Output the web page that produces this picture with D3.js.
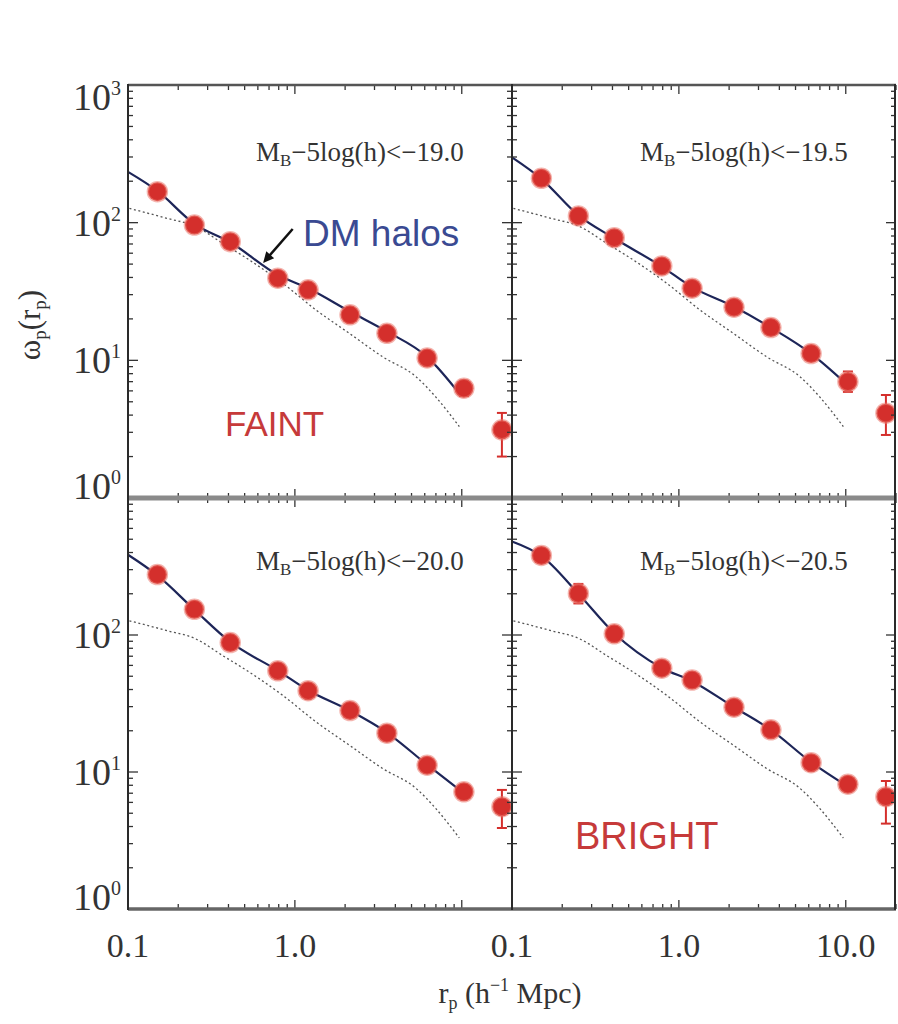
<!DOCTYPE html>
<html>
<head>
<meta charset="utf-8">
<script src="https://cdn.jsdelivr.net/npm/d3@7"></script>
<style>
  body { margin: 0; background: #fff; }
  svg { display: block; }
</style>
</head>
<body>
<svg id="chart" width="898" height="1024"></svg>
<script>
// Projected correlation function w_p(r_p) in four luminosity-threshold samples.

// Projected separations of the measured bins (h^-1 Mpc)
const rpBins = [0.15, 0.25, 0.41, 0.79, 1.2, 2.14, 3.56, 6.2, 10.3, 17.4];

// Measured w_p for each threshold sample, with error-bar ends
const wp190 = [168, 96, 72.8, 39.5, 32.5, 21.4, 15.7, 10.4, 6.27, 3.13];
const lo190 = [155, 89, 67, 36.5, 30, 19.6, 14.3, 9.4, 5.5, 2.0];
const hi190 = [182, 104, 79, 43, 35, 23.3, 17.2, 11.5, 7.1, 4.15];

const wp195 = [210, 112, 77.8, 48.5, 33.4, 24.3, 17.3, 11.2, 7.0, 4.13];
const lo195 = [194, 104, 72, 45, 31, 22.4, 15.8, 10.2, 5.9, 2.87];
const hi195 = [227, 121, 84, 52.5, 36, 26.3, 19, 12.3, 8.3, 5.6];

const wp200 = [276, 154, 88, 54.8, 39.2, 28.1, 19.2, 11.2, 7.17, 5.58];
const lo200 = [254, 142, 80, 50.5, 36, 25.8, 17.5, 10.2, 6.5, 3.9];
const hi200 = [300, 167, 97, 59.5, 42.7, 30.6, 21.1, 12.3, 7.9, 7.4];

const wp205 = [381, 201, 102, 57.3, 46.9, 29.7, 20.3, 11.7, 8.14, 6.6];
const lo205 = [350, 170, 92, 52.5, 43, 27.2, 18.5, 10.6, 7.4, 4.2];
const hi205 = [414, 236, 113, 62.5, 51, 32.4, 22.3, 12.9, 9.0, 8.6];

// Matched dark-matter-halo curves (solid)
const haloR = [0.1, 0.15, 0.25, 0.41, 0.79, 1.2, 2.14, 3.56, 6.2, 10];
const halo190 = [234, 170, 98, 72, 41.7, 33.4, 22.6, 16.2, 10.6, 5.45];
const halo195 = [298, 208, 113, 77, 48, 34, 24.5, 17.3, 11.2, 6.8];
const halo200 = [385, 272, 153, 89, 55, 39.5, 28, 19.4, 11.3, 7.2];
const halo205 = [482, 378, 200, 103, 57.5, 46, 29.7, 20.3, 11.8, 8.0];

// Dark-matter correlation function (dotted), the same in every panel
const dmR  = [0.102, 0.169, 0.255, 0.369, 0.533, 0.845, 1.34, 2.12, 3.36, 5.32, 7.0, 9.67];
const dmWp = [127, 108, 93.6, 70.8, 53.6, 36.3, 23.2, 15.7, 10.6, 7.6, 5.4, 3.3];

// Panel titles and tick labels
const thresholds = ["19.0", "19.5", "20.0", "20.5"];
const xTickLabels = ["0.1", "1.0", "10.0"];
const yTickExponents = ["0", "1", "2", "3"];

const panels = [
  { col: 0, row: 0, wp: wp190, lo: lo190, hi: hi190, halo: halo190, thr: thresholds[0] },
  { col: 1, row: 0, wp: wp195, lo: lo195, hi: hi195, halo: halo195, thr: thresholds[1] },
  { col: 0, row: 1, wp: wp200, lo: lo200, hi: hi200, halo: halo200, thr: thresholds[2] },
  { col: 1, row: 1, wp: wp205, lo: lo205, hi: hi205, halo: halo205, thr: thresholds[3] }
];

const svg = d3.select("#chart");
const serif = "'Liberation Serif', 'Times New Roman', serif";
const sans = "'Liberation Sans', Arial, Helvetica, sans-serif";

const colX = [128, 512];
const panelW = 384;
const rowY = [[85, 498], [498, 909]];

const red = "#d42f2c";
const navy = "#1d2558";

panels.forEach(p => {
  const x0 = colX[p.col], x1 = x0 + panelW;
  const [y0, y1] = rowY[p.row];
  const x = d3.scaleLog().domain([0.1, 20]).range([x0, x1]);
  const y = d3.scaleLog().domain([1, 1000]).range([y1, y0]);
  const g = svg.append("g");

  const clipId = `clip-${p.col}-${p.row}`;
  svg.append("clipPath").attr("id", clipId)
    .append("rect").attr("x", x0).attr("y", y0).attr("width", panelW).attr("height", y1 - y0);

  const line = d3.line().x(d => x(d[0])).y(d => y(d[1])).curve(d3.curveMonotoneX);

  // dark matter (dotted)
  g.append("path")
    .attr("d", line(dmR.map((r, i) => [r, dmWp[i]])))
    .attr("fill", "none").attr("stroke", "#555").attr("stroke-width", 1.3)
    .attr("stroke-dasharray", "2,2.6");

  // halo model (solid)
  g.append("path")
    .attr("d", line(haloR.map((r, i) => [r, p.halo[i]])))
    .attr("fill", "none").attr("stroke", navy).attr("stroke-width", 2.2);

  // error bars
  const pts = rpBins.map((r, i) => ({ r, v: p.wp[i], lo: p.lo[i], hi: p.hi[i] }));
  const eg = g.append("g").attr("clip-path", `url(#${clipId})`);
  eg.selectAll("line.err").data(pts).enter().append("line")
    .attr("x1", d => x(d.r)).attr("x2", d => x(d.r))
    .attr("y1", d => y(d.lo)).attr("y2", d => y(d.hi))
    .attr("stroke", red).attr("stroke-width", 2);
  ["lo", "hi"].forEach(k => {
    eg.selectAll(`line.cap-${k}`).data(pts).enter().append("line")
      .attr("x1", d => x(d.r) - 5).attr("x2", d => x(d.r) + 5)
      .attr("y1", d => y(d[k])).attr("y2", d => y(d[k]))
      .attr("stroke", red).attr("stroke-width", 2);
  });

  // points
  eg.selectAll("circle").data(pts).enter().append("circle")
    .attr("cx", d => x(d.r)).attr("cy", d => y(d.v)).attr("r", 9.5)
    .attr("fill", red).attr("stroke", "rgba(235,120,110,0.55)").attr("stroke-width", 2.5);

  // ticks (inward, all four sides)
  const tg = g.append("g").attr("stroke", "#333").attr("stroke-width", 1.3);
  const isMajor = v => Math.abs(Math.log10(v) - Math.round(Math.log10(v))) < 1e-6;
  x.ticks().forEach(v => {
    const len = isMajor(v) ? 9 : 5;
    const xx = x(v);
    tg.append("line").attr("x1", xx).attr("x2", xx).attr("y1", y1).attr("y2", y1 - len);
    tg.append("line").attr("x1", xx).attr("x2", xx).attr("y1", y0).attr("y2", y0 + len);
  });
  y.ticks().forEach(v => {
    const len = isMajor(v) ? 10 : 5;
    const yy = y(v);
    tg.append("line").attr("x1", x0).attr("x2", x0 + len).attr("y1", yy).attr("y2", yy);
    tg.append("line").attr("x1", x1).attr("x2", x1 - len).attr("y1", yy).attr("y2", yy);
  });

  // panel title
  const t = g.append("text")
    .attr("x", x0 + 128).attr("y", y0 + (p.row === 0 ? 76 : 72))
    .attr("font-family", serif).attr("font-size", 27).attr("fill", "#333");
  t.append("tspan").text("M");
  t.append("tspan").text("B").attr("font-size", 17).attr("dy", 5);
  t.append("tspan").text("\u22125log(h)<\u2212" + p.thr).attr("dy", -5);

  // x tick labels along the bottom row
  if (p.row === 1) {
    const labs = p.col === 0 ? xTickLabels.slice(0, 2) : xTickLabels;
    labs.forEach(s => {
      svg.append("text").attr("x", x(+s)).attr("y", 957)
        .attr("text-anchor", "middle").attr("font-family", serif)
        .attr("font-size", 34).attr("fill", "#333").text(s);
    });
  }

  // y tick labels on the left column
  if (p.col === 0) {
    const exps = p.row === 0 ? yTickExponents : yTickExponents.slice(0, 3);
    exps.forEach(e => {
      const yy = Math.min(Math.max(y(Math.pow(10, +e)), y0 + 12), y1 - 12);
      const tx = svg.append("text").attr("x", 121).attr("y", yy + 13)
        .attr("text-anchor", "end").attr("font-family", serif)
        .attr("font-size", 38).attr("fill", "#333");
      tx.append("tspan").text("10");
      tx.append("tspan").text(e).attr("font-size", 20).attr("dy", -15);
    });
  }

  // annotations
  if (p.col === 0 && p.row === 0) {
    svg.append("text").attr("x", x0 + 97).attr("y", y0 + 351)
      .attr("font-family", sans).attr("font-size", 35).attr("fill", "#c63a3a").text("FAINT");
    svg.append("text").attr("x", x0 + 175).attr("y", y0 + 161)
      .attr("font-family", sans).attr("font-size", 37).attr("fill", "#3a4a92").text("DM halos");
    const ax1 = x(0.97), ay1 = y(90), ax2 = x(0.645), ay2 = y(51);
    const ang = Math.atan2(ay2 - ay1, ax2 - ax1);
    svg.append("line").attr("x1", ax1).attr("y1", ay1)
      .attr("x2", ax2 - 6 * Math.cos(ang)).attr("y2", ay2 - 6 * Math.sin(ang))
      .attr("stroke", "#111").attr("stroke-width", 2.5);
    const hl = 12, hw = 0.45;
    svg.append("path")
      .attr("d", `M${ax2},${ay2}` +
        `L${ax2 - hl * Math.cos(ang - hw)},${ay2 - hl * Math.sin(ang - hw)}` +
        `L${ax2 - hl * Math.cos(ang + hw)},${ay2 - hl * Math.sin(ang + hw)}Z`)
      .attr("fill", "#111");
  }
  if (p.col === 1 && p.row === 1) {
    svg.append("text").attr("x", x0 + 63).attr("y", y0 + 351)
      .attr("font-family", sans).attr("font-size", 38).attr("fill", "#c63a3a").text("BRIGHT");
  }
});

// frame lines
const frame = svg.append("g").attr("fill", "none");
frame.append("line").attr("x1", 128).attr("x2", 896).attr("y1", 85).attr("y2", 85)
  .attr("stroke", "#555").attr("stroke-width", 2.5);
frame.append("line").attr("x1", 128).attr("x2", 896).attr("y1", 498).attr("y2", 498)
  .attr("stroke", "#8a8a8a").attr("stroke-width", 5);
frame.append("line").attr("x1", 128).attr("x2", 896).attr("y1", 909).attr("y2", 909)
  .attr("stroke", "#666").attr("stroke-width", 3.5);
[128, 512, 895].forEach(xx => {
  frame.append("line").attr("x1", xx).attr("x2", xx).attr("y1", 84).attr("y2", 910)
    .attr("stroke", "#2a2a2a").attr("stroke-width", 2);
});

// axis titles
const yt = svg.append("text")
  .attr("transform", "translate(40,325) rotate(-90)")
  .attr("text-anchor", "middle").attr("font-family", serif)
  .attr("font-size", 31).attr("fill", "#333");
yt.append("tspan").text("\u03C9");
yt.append("tspan").text("p").attr("font-size", 19).attr("dy", 6);
yt.append("tspan").text("(r").attr("dy", -6);
yt.append("tspan").text("p").attr("font-size", 19).attr("dy", 6);
yt.append("tspan").text(")").attr("dy", -6);

const xt = svg.append("text")
  .attr("x", 510).attr("y", 1003)
  .attr("text-anchor", "middle").attr("font-family", serif)
  .attr("font-size", 30).attr("fill", "#333");
xt.append("tspan").text("r");
xt.append("tspan").text("p").attr("font-size", 18).attr("dy", 6);
xt.append("tspan").text(" (h").attr("dy", -6);
xt.append("tspan").text("\u22121").attr("font-size", 18).attr("dy", -12);
xt.append("tspan").text(" Mpc)").attr("dy", 12);
</script>
</body>
</html>
